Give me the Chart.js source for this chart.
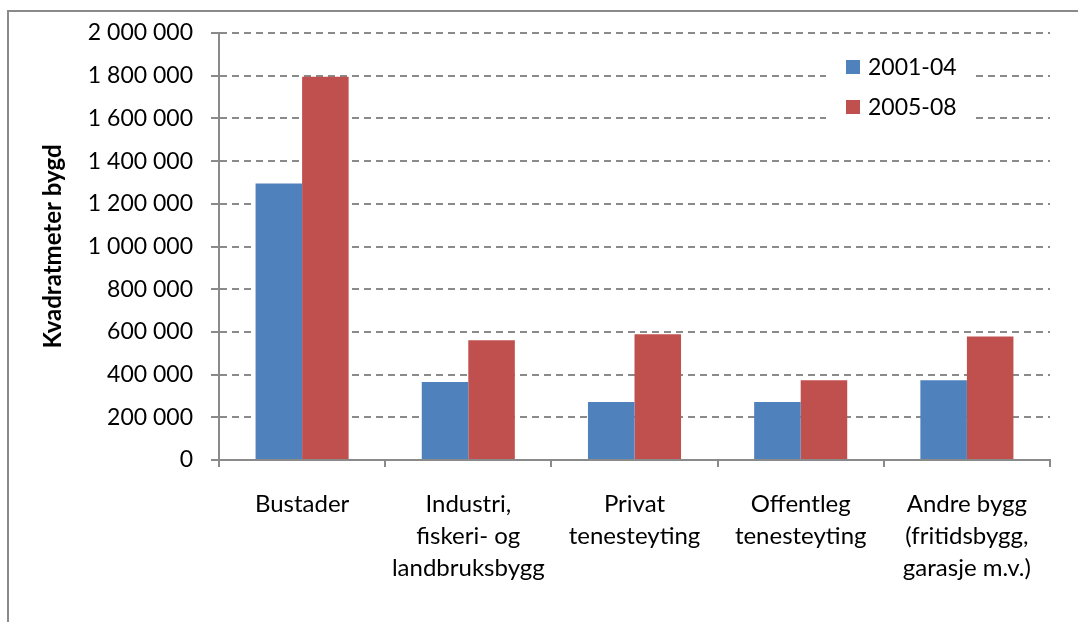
<!DOCTYPE html>
<html>
<head>
<meta charset="utf-8">
<script src="https://cdn.jsdelivr.net/npm/chart.js@4/dist/chart.umd.min.js"></script>
<style>
  html, body { margin: 0; padding: 0; background: #fff; }
  #wrap { width: 1078px; height: 622px; }
</style>
</head>
<body>
<div id="wrap"><canvas id="myChart" width="1078" height="622"></canvas></div>
<script>
  // categories (multi-line labels as in the original)
  var categories = [
    ["Bustader"],
    ["Industri,", "fiskeri- og", "landbruksbygg"],
    ["Privat", "tenesteyting"],
    ["Offentleg", "tenesteyting"],
    ["Andre bygg", "(fritidsbygg,", "garasje m.v.)"]
  ];
  var seriesNames = ["2001-04", "2005-08"];
  var period1 = [1295000, 365000, 272000, 272000, 374000];
  var period2 = [1795000, 561000, 589000, 374000, 579000];
  var yTicks = [0, 200000, 400000, 600000, 800000, 1000000, 1200000, 1400000, 1600000, 1800000, 2000000];

  var FONT = "Lato";

  function spaced(v) {
    return String(v).replace(/\B(?=(\d{3})+(?!\d))/g, " ");
  }

  // grey frame round the chart (only top and left edges are visible)
  var framePlugin = {
    id: "frame",
    beforeDraw: function (chart) {
      var c = chart.ctx;
      c.save();
      c.fillStyle = "#fff";
      c.fillRect(0, 0, chart.width, chart.height);
      c.strokeStyle = "#8a8a8a";
      c.lineWidth = 2;
      c.beginPath();
      c.moveTo(8, chart.height);
      c.lineTo(8, 11);
      c.lineTo(chart.width, 11);
      c.stroke();
      c.restore();
    }
  };

  // legend sits inside the plot, on a white box over the grid lines
  var boxLegend = {
    id: "boxLegend",
    afterDatasetsDraw: function (chart) {
      var c = chart.ctx;
      c.save();
      c.fillStyle = "#fff";
      c.fillRect(826, 45, 149, 90);
      c.font = "23px " + FONT;
      c.textBaseline = "middle";
      chart.data.datasets.forEach(function (ds, i) {
        var y = 67 + i * 40;
        c.fillStyle = ds.backgroundColor;
        c.fillRect(846, y - 7, 14, 14);
        c.fillStyle = "#000";
        c.fillText(ds.label, 868, y + 1);
      });
      c.restore();
    }
  };

  var ctx = document.getElementById("myChart").getContext("2d");
  var chart1 = new Chart(ctx, {
    type: "bar",
    data: {
      labels: categories,
      datasets: [
        {
          label: seriesNames[0],
          backgroundColor: "#4f81bd",
          data: period1,
          categoryPercentage: 0.56,
          barPercentage: 1.0
        },
        {
          label: seriesNames[1],
          backgroundColor: "#c0504d",
          data: period2,
          categoryPercentage: 0.56,
          barPercentage: 1.0
        }
      ]
    },
    options: {
      responsive: false,
      animation: false,
      devicePixelRatio: 1,
      layout: { padding: { left: 20, right: 28, top: 33, bottom: 0 } },
      plugins: {
        legend: { display: false },
        tooltip: { enabled: false }
      },
      scales: {
        x: {
          grid: {
            display: true,
            offset: true,
            drawOnChartArea: false,
            drawTicks: true,
            tickLength: 7,
            color: "#8a8a8a",
            lineWidth: 2
          },
          border: { display: true, color: "#8a8a8a", width: 2 },
          ticks: {
            color: "#000",
            padding: 21,
            maxRotation: 0,
            autoSkip: false,
            font: { family: FONT, size: 24, lineHeight: 1.34 }
          },
          afterFit: function (scale) {
            scale.height = 622 - 460;
          }
        },
        y: {
          min: 0,
          max: 2000000,
          afterBuildTicks: function (scale) {
            scale.ticks = yTicks.map(function (v) { return { value: v }; });
          },
          grid: {
            color: "#8a8a8a",
            lineWidth: 2,
            drawTicks: true,
            tickLength: 8,
            tickBorderDash: [],
            tickColor: "#8a8a8a"
          },
          border: { display: true, color: "#8a8a8a", width: 2, dash: [7, 5] },
          ticks: {
            color: "#000",
            padding: 18,
            font: { family: FONT, size: 23 },
            callback: function (v) { return spaced(v); }
          },
          title: {
            display: true,
            text: "Kvadratmeter bygd",
            color: "#000",
            padding: { top: 19, bottom: 0 },
            font: { family: FONT, size: 24, weight: "bold" }
          },
          afterFit: function (scale) {
            scale.width = 219 - 20;
          }
        }
      }
    },
    plugins: [framePlugin, boxLegend]
  });
</script>
</body>
</html>
